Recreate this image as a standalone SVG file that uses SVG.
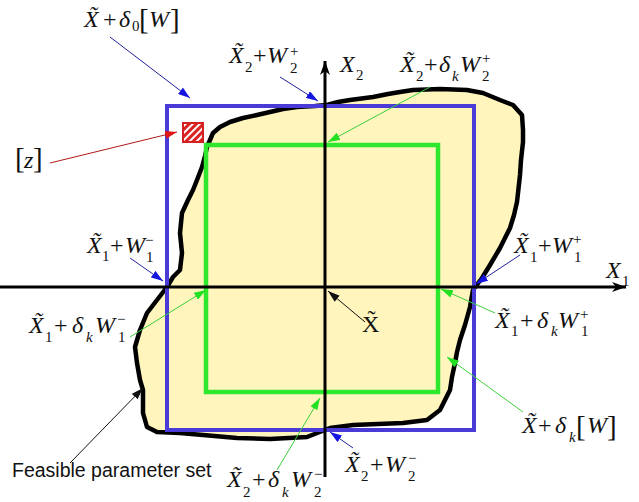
<svg xmlns="http://www.w3.org/2000/svg" width="639" height="502" viewBox="0 0 639 502">
<style>
.m{font-family:"Liberation Serif",serif;font-style:italic;font-size:24px;fill:#111}
.u{font-family:"Liberation Serif",serif;font-size:24px;fill:#111}
.s{font-family:"Liberation Serif",serif;font-size:15px;fill:#111}
.k{font-family:"Liberation Serif",serif;font-style:italic;font-size:15px;fill:#111}
.br{font-family:"Liberation Serif",serif;font-size:29px;fill:#111}
.sans{font-family:"Liberation Sans",Arial,sans-serif;font-size:19.5px;fill:#111}
.ab{stroke:#22229a;stroke-width:1;fill:none}
.ag{stroke:#3ccf3c;stroke-width:1;fill:none}
.ar{stroke:#b01818;stroke-width:1;fill:none}
.ak{stroke:#111;stroke-width:1;fill:none}
</style>
<defs>
<pattern id="hatch" width="5" height="5" patternUnits="userSpaceOnUse" patternTransform="rotate(45)">
<rect width="5" height="5" fill="#ffffff"/>
<rect width="3" height="5" fill="#dd2222"/>
</pattern>
<marker id="hb" markerUnits="userSpaceOnUse" markerWidth="12" markerHeight="8" refX="12" refY="4" orient="auto"><path d="M0,0 L12,4 L0,8 Z" fill="#1515e0"/></marker>
<marker id="hg" markerUnits="userSpaceOnUse" markerWidth="12" markerHeight="8" refX="12" refY="4" orient="auto"><path d="M0,0 L12,4 L0,8 Z" fill="#22e022"/></marker>
<marker id="hr" markerUnits="userSpaceOnUse" markerWidth="12" markerHeight="8" refX="12" refY="4" orient="auto"><path d="M0,0 L12,4 L0,8 Z" fill="#e01515"/></marker>
<marker id="hk" markerUnits="userSpaceOnUse" markerWidth="12" markerHeight="8" refX="12" refY="4" orient="auto"><path d="M0,0 L12,4 L0,8 Z" fill="#111"/></marker>
<marker id="ax" markerUnits="userSpaceOnUse" markerWidth="14" markerHeight="10" refX="14" refY="5" orient="auto"><path d="M0,0 L14,5 L0,10 L4,5 Z" fill="#000"/></marker>
</defs>

<g id="feasible-set">
<path d="M167,287 L173,277 L180,270 L182,253 L180,233 L182,213 L188,200 L193,190 L197,180 L202,167 L205,156 L207,147 L213,133 L220,127 L230,122 L243,118 L257,115 L270,112 L283,109 L297,107 L315,106 L327,105 L338,102 L350,100 L373,97 L388,94 L400,92 L413,90 L440,89 L467,90 L483,93 L500,100 L513,105 L522,115 L523,130 L523,142 L521,160 L520,175 L517,202 L514,215 L510,228 L500,248 L490,265 L482,278 L473,290 L470,307 L465,325 L460,340 L457,352 L455,363 L452,377 L450,390 L440,410 L427,420 L403,423 L378,424 L353,425 L330,428 L307,437 L270,439 L237,438 L203,435 L180,433 L157,432 L147,427 L143,413 L143,390 L140,380 L137,363 L135,347 L140,330 L147,313 L157,300 Z" fill="#fff5bd" stroke="#000" stroke-width="4.5" stroke-linejoin="round"/>
</g>
<g id="outer-box"><rect x="167" y="106" width="307" height="324" fill="none" stroke="#4a3ad8" stroke-width="4"/></g>
<g id="inner-box"><rect x="206" y="145" width="232" height="247" fill="none" stroke="#2ee82e" stroke-width="4.5"/></g>
<g id="cell-z"><rect x="183" y="123" width="20" height="19" fill="url(#hatch)" stroke="#d42020" stroke-width="2"/></g>

<g id="axes">
<line x1="0" y1="287" x2="626" y2="287" stroke="#000" stroke-width="3" marker-end="url(#ax)"/>
<line x1="325" y1="477" x2="325" y2="61" stroke="#000" stroke-width="3" marker-end="url(#ax)"/>
</g>

<g id="connectors">
<line class="ab" x1="110" y1="37" x2="190" y2="98" marker-end="url(#hb)"/>
<line class="ab" x1="280" y1="77" x2="318" y2="101" marker-end="url(#hb)"/>
<line class="ag" x1="430" y1="87" x2="328" y2="142" marker-end="url(#hg)"/>
<line class="ar" x1="50" y1="163" x2="177" y2="132" marker-end="url(#hr)"/>
<line class="ab" x1="130" y1="258" x2="163" y2="281" marker-end="url(#hb)"/>
<line class="ag" x1="130" y1="337" x2="206" y2="290" marker-end="url(#hg)"/>
<line class="ab" x1="520" y1="255" x2="476" y2="284" marker-end="url(#hb)"/>
<line class="ag" x1="495" y1="313" x2="441" y2="289" marker-end="url(#hg)"/>
<line class="ak" x1="365" y1="322" x2="328" y2="291" marker-end="url(#hk)"/>
<line class="ag" x1="523" y1="412" x2="447" y2="357" marker-end="url(#hg)"/>
<line class="ab" x1="353" y1="448" x2="330" y2="432" marker-end="url(#hb)"/>
<line class="ag" x1="277" y1="470" x2="320" y2="398" marker-end="url(#hg)"/>
<line class="ak" x1="70" y1="463" x2="143" y2="388" marker-end="url(#hk)"/>
</g>

<g id="label-outer">
<text class="m" x="84" y="27">X&#771;</text>
<text class="u" x="103" y="27">+</text>
<text class="m" x="119" y="27">δ</text>
<text class="s" x="132" y="31">0</text>
<text class="br" x="139" y="29">[</text>
<text class="m" x="149" y="27">W</text>
<text class="br" x="170" y="29">]</text>
</g>
<g id="label-x2-plus">
<text class="m" x="229" y="63">X&#771;</text>
<text class="s" x="245" y="72">2</text>
<text class="u" x="253" y="63">+</text>
<text class="m" x="267" y="63">W</text>
<text class="s" x="290" y="56">+</text>
<text class="s" x="290" y="73">2</text>
</g>
<g id="label-axis-x2">
<text class="m" x="340" y="72">X</text>
<text class="s" x="356" y="80">2</text>
</g>
<g id="label-x2-dk-plus">
<text class="m" x="400" y="72">X&#771;</text>
<text class="s" x="416" y="81">2</text>
<text class="u" x="424" y="72">+</text>
<text class="m" x="439" y="72">δ</text>
<text class="k" x="452" y="81">k</text>
<text class="m" x="460" y="72">W</text>
<text class="s" x="482" y="63">+</text>
<text class="s" x="482" y="81">2</text>
</g>
<g id="label-z">
<text class="br" x="15" y="168">[</text>
<text class="m" x="24" y="168">z</text>
<text class="br" x="33" y="168">]</text>
</g>
<g id="label-x1-minus">
<text class="m" x="87" y="253">X&#771;</text>
<text class="s" x="102" y="261">1</text>
<text class="u" x="110" y="253">+</text>
<text class="m" x="125" y="253">W</text>
<text class="s" x="145" y="245">−</text>
<text class="s" x="146" y="262">1</text>
</g>
<g id="label-x1-dk-minus">
<text class="m" x="29" y="333">X&#771;</text>
<text class="s" x="45" y="342">1</text>
<text class="u" x="54" y="333">+</text>
<text class="m" x="72" y="333">δ</text>
<text class="k" x="86" y="342">k</text>
<text class="m" x="95" y="333">W</text>
<text class="s" x="117" y="324">−</text>
<text class="s" x="118" y="342">1</text>
</g>
<g id="label-x1-plus">
<text class="m" x="514" y="253">X&#771;</text>
<text class="s" x="530" y="262">1</text>
<text class="u" x="538" y="253">+</text>
<text class="m" x="552" y="253">W</text>
<text class="s" x="573" y="244">+</text>
<text class="s" x="574" y="262">1</text>
</g>
<g id="label-axis-x1">
<text class="m" x="606" y="278">X</text>
<text class="s" x="622" y="286">1</text>
</g>
<g id="label-x1-dk-plus">
<text class="m" x="495" y="328">X&#771;</text>
<text class="s" x="511" y="336">1</text>
<text class="u" x="520" y="328">+</text>
<text class="m" x="537" y="328">δ</text>
<text class="k" x="551" y="336">k</text>
<text class="m" x="558" y="328">W</text>
<text class="s" x="580" y="319">+</text>
<text class="s" x="581" y="336">1</text>
</g>
<g id="label-center">
<text class="u" x="362" y="332">X&#771;</text>
</g>
<g id="label-inner">
<text class="m" x="522" y="433">X&#771;</text>
<text class="u" x="538" y="433">+</text>
<text class="m" x="555" y="433">δ</text>
<text class="k" x="569" y="442">k</text>
<text class="br" x="576" y="436">[</text>
<text class="m" x="587" y="433">W</text>
<text class="br" x="607" y="436">]</text>
</g>
<g id="label-x2-minus">
<text class="m" x="345" y="472">X&#771;</text>
<text class="s" x="361" y="481">2</text>
<text class="u" x="370" y="472">+</text>
<text class="m" x="385" y="472">W</text>
<text class="s" x="408" y="463">−</text>
<text class="s" x="408" y="481">2</text>
</g>
<g id="label-x2-dk-minus">
<text class="m" x="227" y="487">X&#771;</text>
<text class="s" x="243" y="497">2</text>
<text class="u" x="252" y="487">+</text>
<text class="m" x="268" y="487">δ</text>
<text class="k" x="282" y="497">k</text>
<text class="m" x="291" y="487">W</text>
<text class="s" x="314" y="479">−</text>
<text class="s" x="314" y="497">2</text>
</g>
<g id="label-feasible">
<text class="sans" x="12" y="477">Feasible parameter set</text>
</g>
</svg>
